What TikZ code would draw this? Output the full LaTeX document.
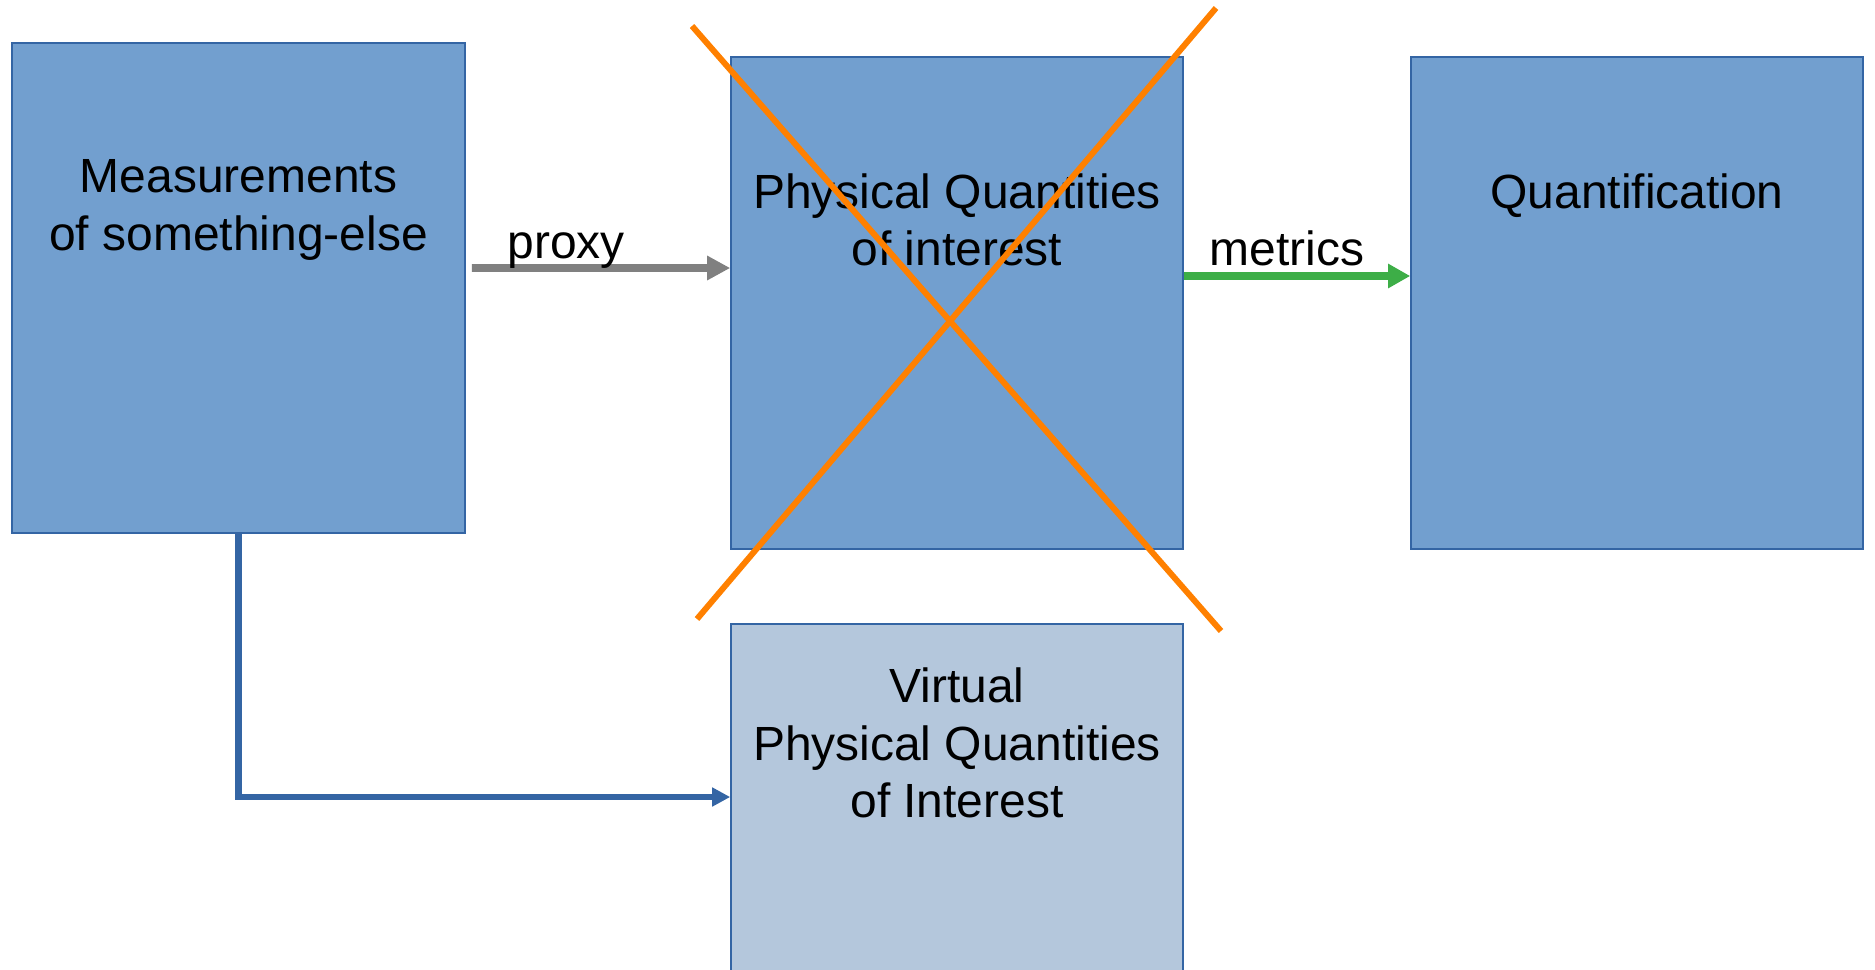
\documentclass[tikz,border=0pt]{standalone}
\usepackage{fontspec}
\setmainfont{Liberation Sans}
\usetikzlibrary{arrows.meta}
\definecolor{boxfill}{HTML}{729FCF}
\definecolor{boxline}{HTML}{3465A4}
\definecolor{virtfill}{HTML}{B4C7DC}
\definecolor{crossorange}{HTML}{FF8000}
\definecolor{metricgreen}{HTML}{3DAE47}
\definecolor{proxygray}{HTML}{808080}
\tikzset{
  block/.style={draw=boxline, line width=0.45pt, fill=boxfill, rectangle,
    minimum width=45.2mm, minimum height=49.2mm, inner sep=0pt},
  virtblock/.style={block, fill=virtfill, minimum height=35.6mm},
  caption/.style={align=center, inner sep=0pt, font=\fontsize{13.65}{16.35}\selectfont},
  grayarrow/.style={draw=proxygray, line width=2.2pt, -{Triangle[length=2.3mm,width=2.3mm]}},
  greenarrow/.style={draw=metricgreen, line width=2pt, -{Triangle[length=2.2mm,width=2.3mm]}},
  bluearrow/.style={draw=boxline, line width=1.8pt, -{Triangle[length=1.8mm,width=1.8mm]}},
  crossline/.style={draw=crossorange, line width=1.7pt},
}
\begin{document}
\begin{tikzpicture}[x=0.1mm, y=-0.1mm]
\useasboundingbox (0,0) rectangle (1875,969);

% boxes
\node[block, minimum width=45.3mm, minimum height=49mm] (meas) at (238.5,288) {};
\node[block] (phys) at (957,303) {};
\node[block] (quant) at (1637,303) {};
\node[virtblock] (virt) at (957,802) {};

% box captions
\node[caption] (meastext) at (238.5,210) {Measurements\\of something-else};
\node[caption] (phystext) at (957,220) {Physical Quantities\\of interest};
\node[caption, anchor=base] (quanttext) at (1637,208) {Quantification};
\node[caption] (virttext) at (957,743) {Virtual\\Physical Quantities\\of Interest};

% connectors
\draw[grayarrow] ([xshift=0.6mm,yshift=2mm]meas.east) -- ([yshift=3.5mm]phys.west);
\node[caption, anchor=base] (proxylabel) at (566,258) {proxy};

\draw[greenarrow] ([yshift=2.7mm]phys.east) -- ([yshift=2.7mm]quant.west);
\node[caption, anchor=base] (metricslabel) at (1287,265) {metrics};

\coordinate (elbow) at (239,797);
\draw[bluearrow] (meas.south) |- (virt.west |- elbow);

% the crossing-out of the physical quantities
\coordinate (xa1) at (692,26);
\coordinate (xa2) at (1221,631);
\coordinate (xb1) at (1216,8);
\coordinate (xb2) at (697,619);
\draw[crossline] (xa1) -- (xa2);
\draw[crossline] (xb1) -- (xb2);
\end{tikzpicture}
\end{document}
